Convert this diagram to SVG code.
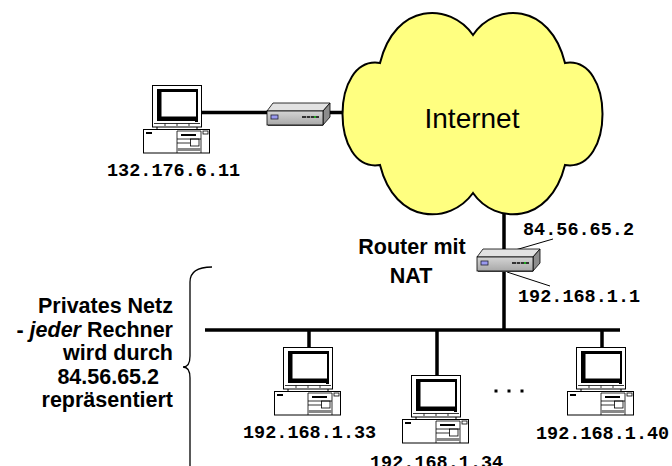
<svg xmlns="http://www.w3.org/2000/svg" xmlns:xlink="http://www.w3.org/1999/xlink" width="672" height="466" viewBox="0 0 672 466">
  <style>
    .wire { stroke: #000; stroke-width: 3.5; fill: none; }
    .thin { stroke: #000; stroke-width: 1; fill: none; }
    .ip { font-family: "Liberation Mono", "Courier New", monospace; font-weight: bold; font-size: 18.5px; fill: #000; }
    .lbl { font-family: "Liberation Sans", Arial, sans-serif; font-weight: bold; font-size: 21.5px; fill: #000; text-anchor: middle; }
    .note { font-family: "Liberation Sans", Arial, sans-serif; font-weight: bold; font-size: 21.5px; fill: #000; text-anchor: end; }
    .cloudtxt { font-family: "Liberation Sans", Arial, sans-serif; font-size: 28px; fill: #000; text-anchor: middle; }
  </style>
  <defs>
    <linearGradient id="routerFront" x1="0" y1="0" x2="0" y2="1">
      <stop offset="0" stop-color="#D4D4D4"/>
      <stop offset="1" stop-color="#A8A8A8"/>
    </linearGradient>
    <!-- desktop computer: monitor on top of a horizontal case; origin = monitor top-left -->
    <g id="pc">
      <rect x="0.5" y="0.5" width="49" height="41.5" fill="#fff" stroke="#000" stroke-width="1"/>
      <rect x="5" y="4" width="41" height="32" fill="#000"/>
      <rect x="9.5" y="7" width="34.5" height="24.5" fill="#fff"/>
      <line x1="2" y1="38.5" x2="48" y2="38.5" stroke="#000" stroke-width="0.8"/>
      <line x1="13" y1="38.5" x2="13" y2="41" stroke="#000" stroke-width="0.8"/>
      <line x1="25" y1="38.5" x2="25" y2="41" stroke="#000" stroke-width="0.8"/>
      <line x1="37" y1="38.5" x2="37" y2="41" stroke="#000" stroke-width="0.8"/>
      <rect x="43" y="35.5" width="3" height="1.5" fill="#000"/>
      <line x1="5" y1="42" x2="5" y2="44.5" stroke="#000" stroke-width="1"/>
      <line x1="45" y1="42" x2="45" y2="44.5" stroke="#000" stroke-width="1"/>
      <rect x="-8.5" y="44.5" width="66" height="23.5" fill="#fff" stroke="#000" stroke-width="1"/>
      <rect x="-6" y="47" width="6" height="2" fill="#000"/>
      <line x1="25" y1="46" x2="25" y2="68" stroke="#000" stroke-width="0.8"/>
      <line x1="49" y1="46" x2="49" y2="68" stroke="#000" stroke-width="0.8"/>
      <line x1="25" y1="46" x2="49" y2="46" stroke="#000" stroke-width="0.8"/>
      <rect x="29" y="49" width="15" height="2" fill="#000"/>
      <line x1="25" y1="54" x2="49" y2="54" stroke="#000" stroke-width="0.8"/>
      <rect x="38.5" y="54" width="8.5" height="7" fill="none" stroke="#000" stroke-width="0.8"/>
      <line x1="25" y1="58" x2="38.5" y2="58" stroke="#000" stroke-width="0.8"/>
      <rect x="25" y="63" width="24" height="3" fill="#888"/>
      <rect x="51" y="46" width="5" height="3" fill="none" stroke="#000" stroke-width="0.8"/>
    </g>
    <!-- small box router; origin = top-left of the front face -->
    <g id="router">
      <polygon points="0,0 6,-8 63,-8 56,0" fill="#E2E2E2" stroke="#000" stroke-width="0.8"/>
      <polygon points="56,0 63,-8 63,6 56,14" fill="#8C8C8C" stroke="#000" stroke-width="0.8"/>
      <rect x="0" y="0" width="56" height="14" fill="url(#routerFront)" stroke="#000" stroke-width="0.8"/>
      <line x1="1" y1="14.5" x2="56" y2="14.5" stroke="#333" stroke-width="1.2"/>
      <rect x="4" y="4" width="7" height="4" fill="#9A9AF0" stroke="#223" stroke-width="0.8"/>
      <rect x="35" y="5" width="17" height="2" fill="#333"/>
      <rect x="39" y="5" width="1" height="2" fill="#999"/>
      <rect x="43" y="5" width="1" height="2" fill="#999"/>
      <rect x="47" y="5" width="2" height="2" fill="#2A2"/>
    </g>
  </defs>

  <!-- connectors -->
  <g id="connectors">
    <line class="wire" x1="202" y1="112.5" x2="343" y2="112.5"/>
    <line class="wire" x1="504" y1="210" x2="504" y2="330"/>
    <line class="wire" x1="205" y1="330" x2="620" y2="330"/>
    <line class="wire" x1="309" y1="330" x2="309" y2="347"/>
    <line class="wire" x1="437" y1="330" x2="437" y2="375"/>
    <line class="wire" x1="602" y1="330" x2="602" y2="347"/>
    <line class="thin" x1="505" y1="253" x2="553" y2="239"/>
    <line class="thin" x1="507" y1="272" x2="550" y2="286"/>
  </g>

  <!-- Internet cloud -->
  <g id="internet">
    <path d="M473,35 C495,2 550,2 565,63 C615,55 615,173 565,165 C550,225 495,225 473,193 C450,225 395,225 380,165 C330,173 330,55 380,63 C395,2 450,2 473,35 Z" fill="#FFFF80" stroke="#000" stroke-width="2"/>
    <text class="cloudtxt" x="472" y="128">Internet</text>
  </g>

  <!-- external host -->
  <g id="host-external">
    <use xlink:href="#pc" x="152" y="85"/>
    <text class="ip" x="107" y="176">132.176.6.11</text>
  </g>

  <g id="router-external">
    <use xlink:href="#router" x="267" y="111"/>
  </g>

  <!-- NAT router -->
  <g id="router-nat">
    <use xlink:href="#router" x="477" y="257"/>
    <text class="lbl" x="412" y="254">Router mit</text>
    <text class="lbl" x="411" y="283">NAT</text>
    <text class="ip" x="523" y="235">84.56.65.2</text>
    <text class="ip" x="518" y="302">192.168.1.1</text>
  </g>

  <!-- private network description with brace -->
  <g id="private-net">
    <path d="M212,267 Q190,267 190,282 L190,356 Q190,367 183,367 Q190,367 190,378 L190,470" fill="none" stroke="#000" stroke-width="1.3"/>
    <text class="note" x="173" y="313">Privates Netz</text>
    <text class="note" x="173" y="337">- <tspan font-style="italic">jeder</tspan> Rechner</text>
    <text class="note" x="173" y="360">wird durch</text>
    <text class="note" x="159" y="384">84.56.65.2</text>
    <text class="note" x="173" y="407">repräsentiert</text>
  </g>

  <g id="host-33">
    <use xlink:href="#pc" x="283" y="347"/>
    <text class="ip" x="243" y="438">192.168.1.33</text>
  </g>

  <g id="host-34">
    <use xlink:href="#pc" x="411" y="375"/>
    <text class="ip" x="370" y="468">192.168.1.34</text>
  </g>

  <g id="host-40">
    <use xlink:href="#pc" x="576" y="347"/>
    <text class="ip" x="536" y="439">192.168.1.40</text>
  </g>

  <g id="ellipsis">
    <rect x="494.5" y="389.5" width="3" height="3" fill="#000"/>
    <rect x="507.5" y="389.5" width="3" height="3" fill="#000"/>
    <rect x="520.5" y="389.5" width="3" height="3" fill="#000"/>
  </g>
</svg>
